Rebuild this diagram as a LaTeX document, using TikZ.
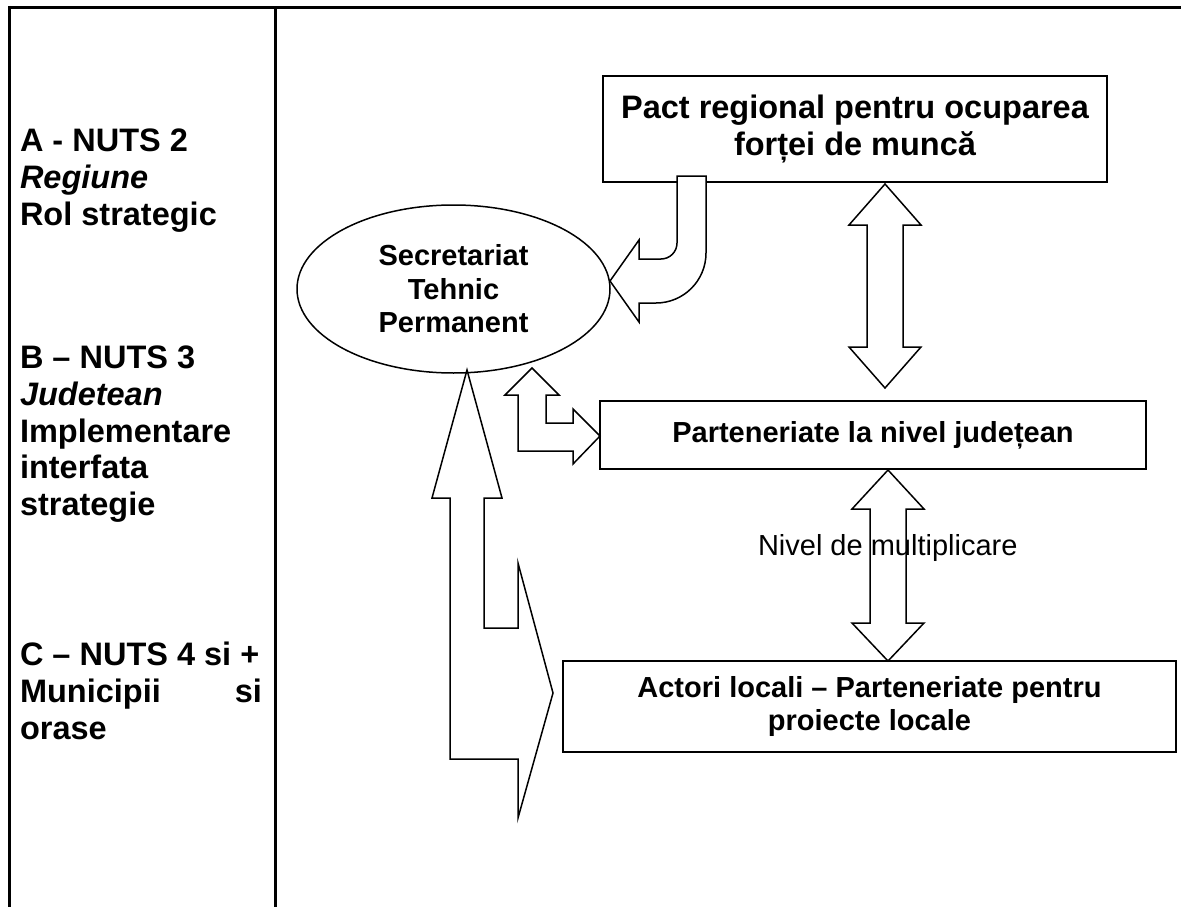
\documentclass[tikz,border=0pt]{standalone}
\usepackage{fontspec}
\setmainfont{Liberation Sans}
\usetikzlibrary{shapes.geometric}
\begin{document}
\begin{tikzpicture}[x=1pt,y=-1pt,
  every node/.style={inner sep=0pt, outer sep=0pt},
  bf/.style={font=\fontsize{29}{33.5}\selectfont\bfseries},
  bfl/.style={font=\fontsize{32.5}{37.5}\selectfont\bfseries},
  box/.style={draw, line width=2pt, align=center},
  blk/.style={draw, line width=1.5pt, fill=white, line join=miter},
  frame/.style={line width=3pt},
  lbl/.style={bfl, anchor=base west}]
\useasboundingbox (0,0) rectangle (1181,907);
% table frame
\coordinate (tl) at (8,7.5);
\coordinate (tr) at (1181,7.5);
\coordinate (lt) at (9,6);
\coordinate (lb) at (9,907);
\coordinate (mt) at (275.5,7.5);
\coordinate (mb) at (275.5,907);
\draw[frame] (tl) -- (tr);
\draw[frame] (lt) -- (lb);
\draw[frame] (mt) -- (mb);
% left column labels
\node[lbl] (a1) at (20,151) {A - NUTS 2};
\node[lbl] (a2) at (20,188) {\itshape Regiune};
\node[lbl] (a3) at (20,225) {Rol strategic};
\node[lbl] (b1) at (20,368) {B – NUTS 3};
\node[lbl] (b2) at (20,405) {\itshape Judetean};
\node[lbl] (b3) at (20,442) {Implementare};
\node[lbl] (b4) at (20,478) {interfata};
\node[lbl] (b5) at (20,515) {strategie};
\node[lbl] (c1) at (20,665) {C – NUTS 4 si +};
\node[lbl, text width=242pt] (c2) at (20,702) {Municipii\hfill si};
\node[lbl] (c3) at (20,739) {orase};
% boxes
\node[box, bfl, minimum width=504pt, minimum height=106pt] (pact) at (855,129)
  {Pact regional pentru ocuparea\\forței de muncă};
\node[box, bf, minimum width=546pt, minimum height=68pt] (jud) at (873,435)
  {Parteneriate la nivel județean};
\node[box, bf, minimum width=613pt, minimum height=91pt] (loc) at (869.5,706.5)
  {Actori locali – Parteneriate pentru\\proiecte locale};
\node[bf, draw, line width=1.5pt, ellipse, align=center,
  minimum width=313pt, minimum height=168pt] (stp) at (453.5,289)
  {Secretariat\\Tehnic\\Permanent};
% double arrow pact <-> jud
\draw[blk] (885,184) -- (921,225) -- (903,225) -- (903,347) -- (921,347)
  -- (885,388) -- (849,347) -- (867,347) -- (867,225) -- (849,225) -- cycle;
% double arrow jud <-> loc
\draw[blk] (888,470) -- (924,509) -- (906,509) -- (906,623) -- (924,623)
  -- (888,661) -- (852,623) -- (870,623) -- (870,509) -- (852,509) -- cycle;
% bent arrow pact -> secretariat
\draw[blk] (677,176) -- (706,176) -- (706,253)
  arc[start angle=0, end angle=-90, radius=50pt]
  -- (639,303) -- (639,322) -- (610,281) -- (639,240) -- (639,259) -- (661,259)
  arc[start angle=-90, end angle=0, radius=16pt]
  -- cycle;
% up / right arrow secretariat <-> jud
\draw[blk] (532,368) -- (559,395) -- (546,395) -- (546,423) -- (573,423)
  -- (573,409) -- (600,436) -- (573,464) -- (573,451) -- (518,451)
  -- (518,395) -- (505,395) -- cycle;
% big arrow secretariat <-> loc
\draw[blk] (467,370) -- (502,498) -- (484,498) -- (484,628) -- (518,628)
  -- (518,563) -- (553,693) -- (518,818) -- (518,759) -- (450,759)
  -- (450,498) -- (432,498) -- cycle;
% label
\node[font=\fontsize{29}{33.5}\selectfont, anchor=base west] (niv) at (758,555)
  {Nivel de multiplicare};
\end{tikzpicture}
\end{document}
